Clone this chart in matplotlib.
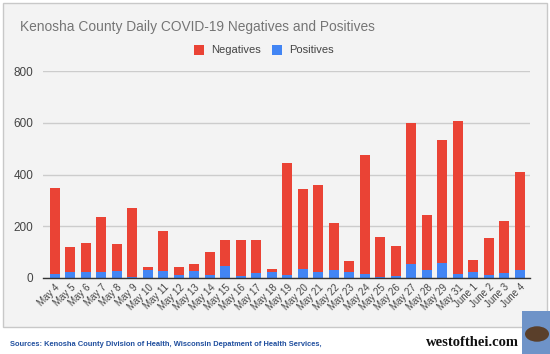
import numpy as np
import matplotlib.pyplot as plt
from matplotlib.patches import Rectangle, Circle

# DATA
dates = ['May 4', 'May 5', 'May 6', 'May 7', 'May 8', 'May 9', 'May 10', 'May 11',
         'May 12', 'May 13', 'May 14', 'May 15', 'May 16', 'May 17', 'May 18',
         'May 19', 'May 20', 'May 21', 'May 22', 'May 23', 'May 24', 'May 25',
         'May 26', 'May 27', 'May 28', 'May 29', 'May 31',
         'June 1', 'June 2', 'June 3', 'June 4']
positives = [15, 22, 22, 25, 28, 4, 32, 28, 10, 28, 10, 46, 8, 18, 23,
             10, 34, 25, 31, 22, 15, 4, 8, 53, 31, 59, 15, 25, 10, 18, 31]
negatives = [333, 99, 113, 212, 104, 267, 12, 155, 34, 27, 92, 99, 137, 127, 11,
             435, 311, 336, 182, 43, 461, 155, 117, 547, 213, 474, 593, 43, 146, 203, 378]

RED = '#EA4335'
BLUE = '#4285F4'
BG = '#F3F3F3'

plt.rcParams['font.family'] = ['Liberation Sans', 'DejaVu Sans']
fig = plt.figure(figsize=(5.5, 3.54), dpi=100)
fig.patch.set_facecolor('white')

# chart panel
panel = Rectangle((3 / 550, 1 - 327 / 354), 544 / 550, 324 / 354,
                  transform=fig.transFigure, facecolor=BG,
                  edgecolor='#C8C8C8', linewidth=1, zorder=-5)
fig.patches.append(panel)

ax = fig.add_axes([43 / 550, 1 - 278 / 354, 487 / 550, 207 / 354])
ax.set_zorder(2)
ax.set_facecolor(BG)

x = np.arange(len(dates))
ax.bar(x, positives, width=0.64, color=BLUE, zorder=3)
ax.bar(x, negatives, width=0.64, bottom=positives, color=RED, zorder=3)

ax.set_ylim(0, 800)
ax.set_xlim(-0.77, len(dates) - 0.35)
ax.set_yticks([0, 200, 400, 600, 800])
ax.yaxis.grid(True, color='#CCCCCC', linewidth=1, zorder=0)
ax.set_axisbelow(True)
ax.tick_params(axis='y', length=0, labelsize=8.5, labelcolor='#444444', pad=7)
ax.set_xticks(x)
ax.set_xticklabels(dates, rotation=45, ha='right', rotation_mode='anchor',
                   fontsize=7, color='#444444')
ax.tick_params(axis='x', length=0, pad=3)
for s in ['top', 'right', 'left']:
    ax.spines[s].set_visible(False)
ax.spines['bottom'].set_color('#333333')
ax.spines['bottom'].set_linewidth(1)
ax.spines['bottom'].set_zorder(4)

# title and legend
fig.text(20 / 550, 1 - 27 / 354, 'Kenosha County Daily COVID-19 Negatives and Positives',
         fontsize=9.9, color='#757575', va='center', ha='left')
fig.patches.append(Rectangle((194 / 550, 1 - 55 / 354), 10 / 550, 10 / 354,
                             transform=fig.transFigure, facecolor=RED, zorder=2))
fig.text(211 / 550, 1 - 50 / 354, 'Negatives', fontsize=8, color='#444444', va='center')
fig.patches.append(Rectangle((272 / 550, 1 - 55 / 354), 10 / 550, 10 / 354,
                             transform=fig.transFigure, facecolor=BLUE, zorder=2))
fig.text(289 / 550, 1 - 50 / 354, 'Positives', fontsize=8, color='#444444', va='center')

# footer
fig.text(10 / 550, 1 - 344 / 354,
         'Sources: Kenosha County Division of Health, Wisconsin Depatment of Health Services,',
         fontsize=5.4, color='#1F4E9E', fontweight='bold', va='center')
fig.text(519 / 550, 1 - 343 / 354, 'westofthei.com', fontsize=10.5, fontweight='bold',
         color='#111111', ha='right', va='center', family=['Liberation Serif', 'DejaVu Serif'])

# little logo picture
fig.patches.append(Rectangle((522 / 550, 0), 28 / 550, 43 / 354, transform=fig.transFigure,
                             facecolor='#6E93C8', zorder=1))
fig.patches.append(Circle((537 / 550, 1 - 334 / 354), 12 / 550, transform=fig.transFigure,
                          facecolor='#5A3F2A', zorder=2))

plt.savefig('out.png', dpi=100)
